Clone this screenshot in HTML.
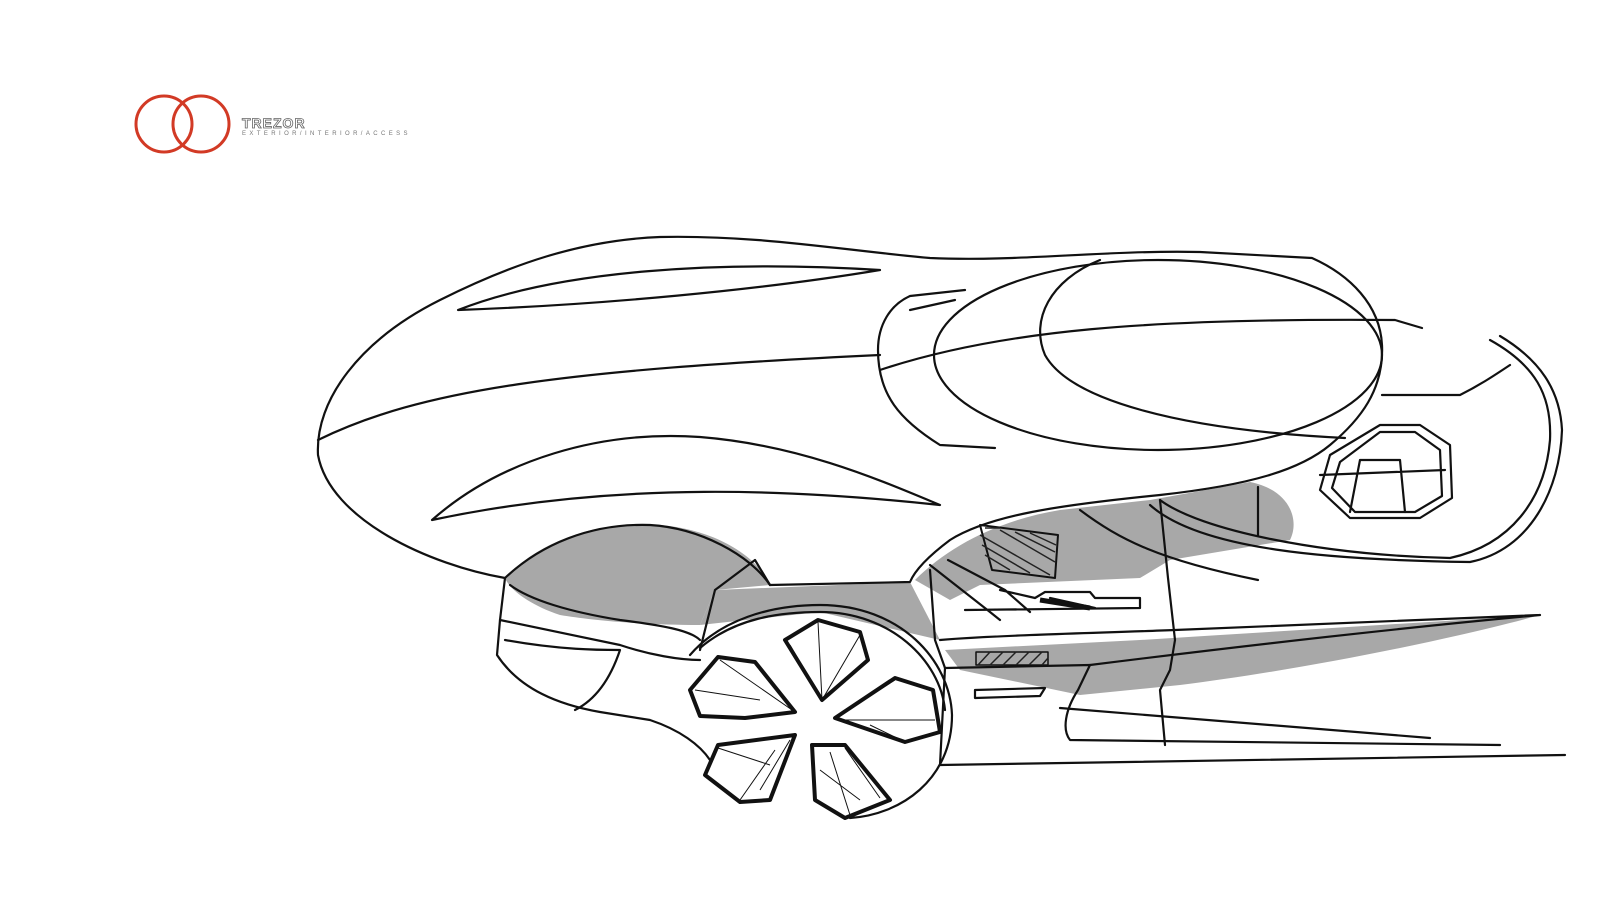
<!DOCTYPE html>
<html><head><meta charset="utf-8"><style>
html,body{margin:0;padding:0;background:#fff;width:1600px;height:900px;overflow:hidden}
svg{position:absolute;left:0;top:0}
.t{position:absolute;font-family:"Liberation Sans",sans-serif;color:#777}
</style></head><body>
<svg width="1600" height="900" viewBox="0 0 1600 900">
<g fill="none" stroke="#d23a25" stroke-width="3">
<circle cx="164" cy="124" r="28"/><circle cx="201" cy="124" r="28"/>
</g>
<g fill="#a8a8a8" stroke="none">
<path d="M505,578 C540,540 600,520 660,525 C720,530 760,560 770,585 L715,590 L700,625 C640,625 590,620 560,615 C530,605 510,590 505,578Z"/>
<path d="M700,625 L715,590 L910,582 L940,640 L820,612 Z"/>
<path d="M915,580 C950,545 1000,520 1060,510 L1150,500 L1250,482 C1290,490 1300,520 1290,540 L1170,560 L1140,578 L980,585 L950,600 Z"/>
<path d="M945,650 L1140,640 L1540,615 C1450,640 1300,670 1180,685 L1080,695 L960,670Z"/>
</g>
<g fill="none" stroke="#111" stroke-width="2.2" stroke-linecap="round" stroke-linejoin="round">
<!-- main body -->
<path d="M505,578 C430,565 330,520 318,455 C315,400 360,340 440,300 C510,265 580,240 660,237 C760,235 840,250 930,258 C1020,262 1100,250 1200,252 L1312,258 C1350,275 1380,305 1382,345 C1384,390 1360,420 1330,445 C1300,470 1250,485 1160,495 C1060,505 990,515 950,540 C930,555 915,570 910,582 L770,585 C750,555 700,528 650,525 C590,523 540,545 505,578"/>
<path d="M318,440 C420,390 560,370 880,355"/>
<path d="M458,310 C560,270 720,260 880,270 C760,290 600,305 458,310Z"/>
<path d="M432,520 C500,460 600,430 700,437 C800,445 880,480 940,505 C800,490 620,480 432,520Z"/>
<ellipse cx="1158" cy="355" rx="224" ry="95"/>
<path d="M1100,260 C1050,280 1030,320 1045,355 C1070,400 1180,430 1345,438"/>
<path d="M880,370 C1000,330 1150,318 1395,320 M1395,320 L1422,328"/>
<path d="M965,290 L910,296 C890,305 878,325 878,350 C878,395 900,420 940,445 L995,448"/>
<path d="M910,310 L955,300"/>
<!-- rear swoop -->
<path d="M1160,500 C1200,530 1320,555 1450,558 C1510,545 1545,500 1550,440 C1552,395 1535,365 1490,340"/>
<path d="M1150,505 C1200,550 1330,560 1470,562 C1530,550 1560,490 1562,430 C1560,390 1540,360 1500,336"/>
<path d="M1382,395 L1460,395 C1480,385 1495,375 1510,365"/>
<path d="M1330,455 L1380,425 L1420,425 L1450,445 L1452,498 L1420,518 L1350,518 L1320,490 Z"/>
<path d="M1340,462 L1380,432 L1415,432 L1440,450 L1442,496 L1415,512 L1355,512 L1332,488 Z"/>
<path d="M1360,460 L1400,460 M1400,460 L1405,512 M1360,460 L1350,512 M1320,475 L1445,470"/>
<!-- interior -->
<path d="M980,525 L1058,535 L1055,578 L992,570 Z" stroke-width="2"/>
<path d="M1080,510 C1120,540 1160,560 1258,580 M1258,487 L1258,535 M1160,500 L1168,578 L1175,640 L1170,670 L1160,690 L1165,745"/>
<path d="M930,565 L990,612 L1000,620 M948,560 L1005,590 L1030,612 M965,610 L1140,608 L1140,598 L1095,598 L1090,592 L1045,592 L1035,598 L1000,590 M1050,598 L1095,608"/>
<path d="M940,640 C1000,635 1100,633 1175,630 L1540,615 M1540,615 C1400,628 1250,645 1090,665"/>
<path d="M945,668 L1090,665 L1078,690 C1065,710 1062,730 1070,740 L1500,745"/>
<path d="M940,765 L1565,755"/>
<path d="M1060,708 L1430,738"/>
<path d="M975,690 L1045,688 L1040,696 L975,698Z"/>
<path d="M976,652 L1048,652 L1048,665 L976,665Z" stroke-width="1.5"/>
<!-- front lower -->
<path d="M505,578 L500,620 L497,655 C520,690 560,705 600,712 L650,720 C680,730 700,745 710,760"/>
<path d="M500,620 L620,645 C650,655 680,660 700,660"/>
<path d="M505,640 C560,650 600,650 620,650 C610,680 595,700 575,710"/>
<path d="M715,590 L700,650 M770,585 L755,560 L715,590"/>
<path d="M510,585 C530,600 570,612 620,620 C660,625 690,630 700,640"/>
<path d="M930,570 L935,640 L945,668 L940,765"/>
<!-- wheel -->
<path d="M690,655 C720,620 770,605 820,605 C900,605 950,660 952,715 C952,780 900,815 850,818"/>
<path d="M700,648 C735,618 780,612 820,612 C890,612 940,660 945,710"/>
</g>
<g fill="#fff" stroke="#111" stroke-width="4" stroke-linejoin="round">
<path d="M785,640 L818,620 L860,632 L868,660 L822,700 Z"/>
<path d="M835,718 L895,678 L933,690 L940,732 L905,742 Z"/>
<path d="M690,690 L718,657 L755,662 L795,712 L745,718 L700,716 Z"/>
<path d="M705,775 L718,745 L795,735 L770,800 L740,802 Z"/>
<path d="M812,745 L845,745 L890,800 L845,818 L815,800 Z"/>
</g>
<g fill="none" stroke="#111" stroke-width="1">
<path d="M818,622 L822,700 M790,645 L822,700 M860,635 L822,700"/>
<path d="M895,680 L835,718 M935,720 L845,720 M905,742 L870,725"/>
<path d="M720,660 L795,712 M695,690 L760,700 M700,715 L745,718"/>
<path d="M718,748 L770,765 M740,800 L775,750 M790,740 L760,790"/>
<path d="M830,752 L850,815 M845,748 L880,798 M820,770 L860,800"/>
</g>
<g stroke="#222" stroke-width="1.5">
<path d="M985,528 L1000,528 M980,535 L1050,575 M982,545 L1030,573 M985,555 L1010,570 M1000,530 L1055,562 M1015,532 L1055,552 M1030,533 L1056,545"/>
<path d="M978,665 L990,652 M990,665 L1003,652 M1003,665 L1016,652 M1016,665 L1029,652 M1029,665 L1042,652 M1042,665 L1048,658"/>
</g>
<path d="M1040,600 L1090,608" stroke="#111" stroke-width="5"/>
</svg>
<div class="t" style="left:242px;top:115px;font-size:14px;letter-spacing:1px;font-weight:bold;color:#fff;-webkit-text-stroke:0.8px #666">TREZOR</div>
<div class="t" style="left:242px;top:131px;font-size:6px;letter-spacing:3.4px">EXTERIOR/INTERIOR/ACCESS</div>
</body></html>
